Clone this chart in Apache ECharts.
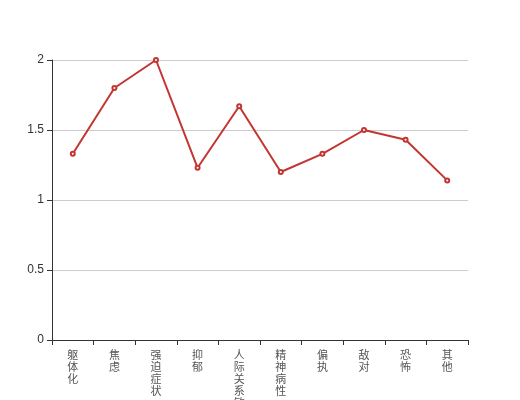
<!DOCTYPE html>
<html><head><meta charset="utf-8">
<script src="https://cdn.jsdelivr.net/npm/echarts@6/dist/echarts.min.js"></script>
<style>html,body{margin:0;padding:0;background:#fff}#c{width:520px;height:400px}</style>
</head><body><div id="c"></div>
<script>
var categories = ['躯体化','焦虑','强迫症状','抑郁','人际关系敏感','精神病性','偏执','敌对','恐怖','其他'];
var values = [1.33, 1.8, 2.0, 1.23, 1.67, 1.2, 1.33, 1.5, 1.43, 1.14];
var chart = echarts.init(document.getElementById('c'));
chart.setOption({
  animation: false,
  grid: {left: 52, right: 52, top: 60, bottom: 60, containLabel: false, outerBoundsMode: 'none'},
  xAxis: {
    type: 'category',
    data: categories,
    axisLine: {lineStyle: {color: '#333'}},
    axisTick: {show: true, alignWithLabel: false, lineStyle: {color: '#333'}},
    axisLabel: {
      interval: 0, color: '#555', fontSize: 11, margin: 9,
      fontFamily: 'Noto Sans CJK SC', lineHeight: 12,
      formatter: function (v) { return v.split('').join('\n'); }
    }
  },
  yAxis: {
    type: 'value', min: 0, max: 2, interval: 0.5,
    axisLine: {show: true, lineStyle: {color: '#333'}},
    axisTick: {show: true, lineStyle: {color: '#333'}},
    axisLabel: {color: '#333', fontSize: 12},
    splitLine: {lineStyle: {color: '#ccc'}}
  },
  series: [{
    type: 'line', data: values,
    symbol: 'emptyCircle', symbolSize: 4,
    lineStyle: {color: '#c23531', width: 2},
    itemStyle: {color: '#c23531'}
  }]
});
</script></body></html>
